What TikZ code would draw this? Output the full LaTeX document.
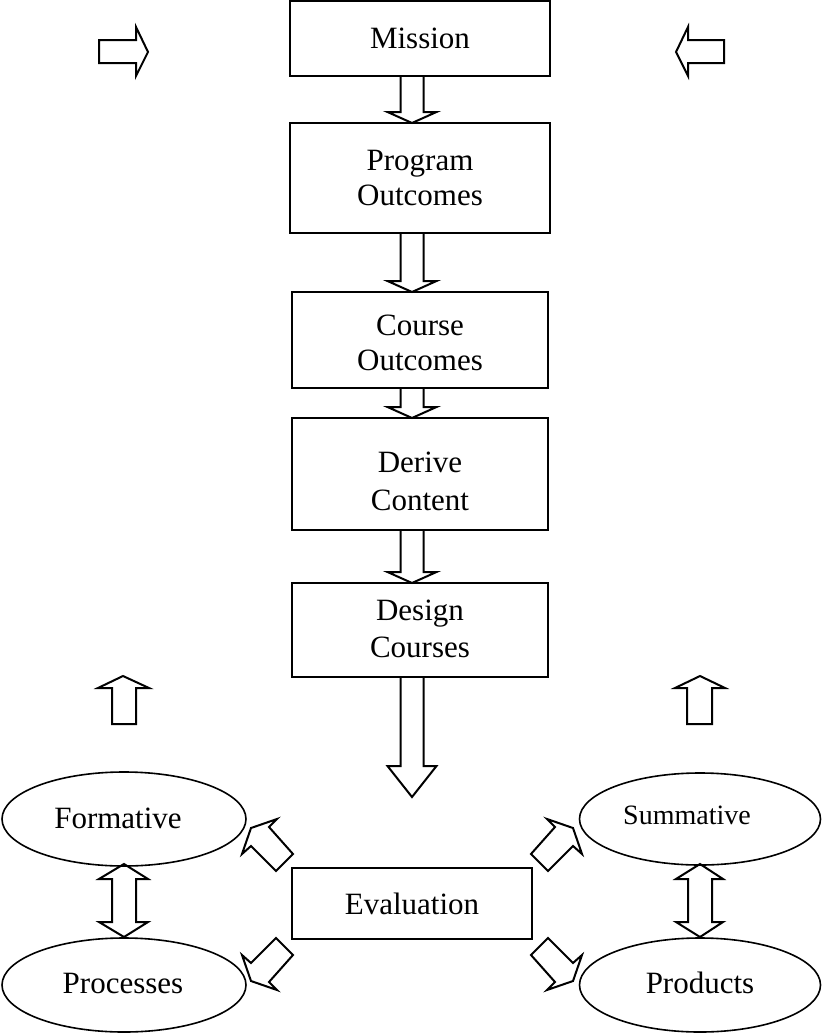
\documentclass[tikz,border=0pt]{standalone}
\usepackage{fontspec}
\setmainfont{Liberation Serif}
\begin{document}
\begin{tikzpicture}[x=1pt,y=-1pt,
  box/.style={draw,line width=2pt,inner sep=0pt,align=center,font=\fontsize{31}{35}\selectfont},
  lbl/.style={font=\fontsize{31}{35}\selectfont},
  blk/.style={draw,line width=2pt,line join=miter}]
\useasboundingbox (0,0) rectangle (822,1036);
% boxes
\node[box,minimum width=260pt,minimum height=75pt] (mission) at (420,38.5) {Mission};
\node[box,minimum width=260pt,minimum height=110pt] (program) at (420,178) {Program\\Outcomes};
\node[box,minimum width=256pt,minimum height=96pt] (course) at (420,340) {};
\node[lbl,align=center] (coursetxt) at (420,343) {Course\\Outcomes};
\node[box,minimum width=256pt,minimum height=112pt] (derive) at (420,474) {};
\node[font=\fontsize{31}{38}\selectfont,align=center] (derivetxt) at (420,481) {Derive\\Content};
\node[box,minimum width=256pt,minimum height=94pt] (design) at (420,630) {};
\node[font=\fontsize{31}{37}\selectfont,align=center] (designtxt) at (420,629) {Design\\Courses};
\node[box,minimum width=240pt,minimum height=71pt] (eval) at (412,903.5) {Evaluation};
% ellipses
\draw[line width=1.6pt] (124,819) ellipse [x radius=122, y radius=47];
\draw[line width=1.6pt] (700,819) ellipse [x radius=120.5, y radius=46];
\draw[line width=1.6pt] (124,985) ellipse [x radius=122, y radius=47];
\draw[line width=1.6pt] (700,985) ellipse [x radius=120.5, y radius=47];
\node[lbl] (form) at (118,818) {Formative};
\node[font=\fontsize{28}{31}\selectfont] (summ) at (687,815) {Summative};
\node[lbl] (proc) at (123,983) {Processes};
\node[lbl] (prod) at (700,983) {Products};
% down block arrows between boxes
\newcommand\blockdown[4]{%
 \draw[blk] (#1-11.5,#2) -- (#1-11.5,#3-#4) -- (#1-24.5,#3-#4) -- (#1,#3) -- (#1+24.5,#3-#4) -- (#1+11.5,#3-#4) -- (#1+11.5,#2);}
\blockdown{412}{76}{123}{11}
\blockdown{412}{233}{292}{11}
\blockdown{412}{388}{418}{11}
\blockdown{412}{530}{583}{11}
\blockdown{412}{677}{797}{31}
% top horizontal arrows
\draw[blk] (99,40) -- (136,40) -- (136,27) -- (148,52) -- (136,76) -- (136,63) -- (99,63) -- cycle;
\draw[blk] (724,40) -- (688,40) -- (688,27) -- (676,52) -- (688,76) -- (688,63) -- (724,63) -- cycle;
% up arrows
\draw[blk] (123,676) -- (149,688) -- (136,688) -- (136,724) -- (112,724) -- (112,688) -- (98,688) -- cycle;
\draw[blk] (700,676) -- (725,688) -- (712,688) -- (712,724) -- (687,724) -- (687,688) -- (675,688) -- cycle;
% double vertical arrows
\draw[blk] (124,864) -- (148,879) -- (136,879) -- (136,922) -- (148,922) -- (124,937) -- (99,922) -- (112,922) -- (112,879) -- (99,879) -- cycle;
\draw[blk] (700,864) -- (723,879) -- (712,879) -- (712,922) -- (723,922) -- (700,937) -- (676,922) -- (688,922) -- (688,879) -- (676,879) -- cycle;
% diagonal arrows
\draw[blk] (548,938) -- (531,955) -- (555,982) -- (547,990) -- (573,981) -- (582,955) -- (573,963) -- cycle;
\draw[blk] (276,938) -- (293,955) -- (269,982) -- (277,990) -- (251,981) -- (242,955) -- (251,963) -- cycle;
\draw[blk] (548,871) -- (531,854) -- (555,827) -- (547,819) -- (573,828) -- (582,854) -- (573,846) -- cycle;
\draw[blk] (276,871) -- (293,854) -- (269,827) -- (277,819) -- (251,828) -- (242,854) -- (251,846) -- cycle;
\end{tikzpicture}
\end{document}
